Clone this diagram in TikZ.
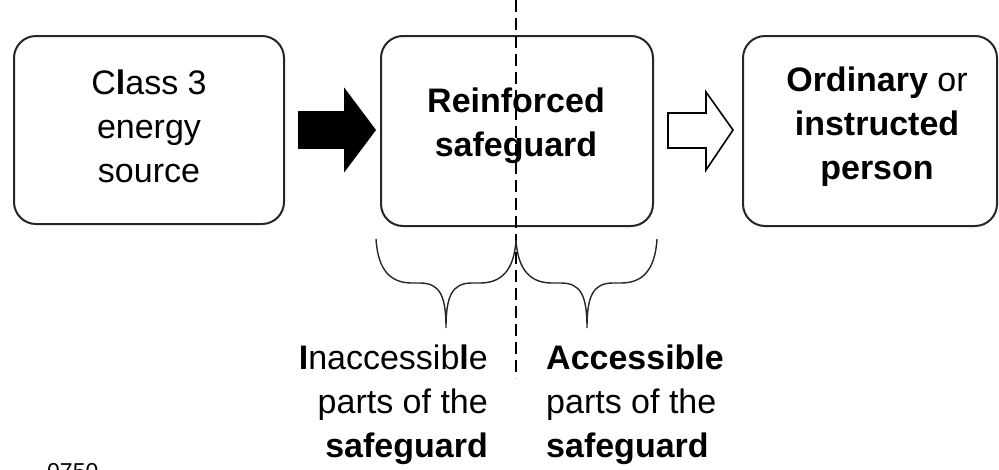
\documentclass[tikz,border=0pt]{standalone}
\usepackage{fontspec}
\setmainfont{Liberation Sans}
\begin{document}
\begin{tikzpicture}[x=1pt,y=-1pt,
  box/.style={draw=black!85,line width=2pt,rounded corners=22pt,inner sep=0pt},
  lbl/.style={inner sep=0pt,align=center,font=\fontsize{34}{44}\selectfont},
  side/.style={inner sep=0pt,font=\fontsize{34}{44}\selectfont},
  brace/.style={draw=black!85,line width=1.4pt},
  blockarrow/.style={draw=black,line width=1.6pt,line join=miter}]
\useasboundingbox (0,0) rectangle (999,469);
\clip (0,0) rectangle (999,469);
% boxes
\node[box,minimum width=270pt,minimum height=188pt] (b1) at (149,130) {};
\node[box,minimum width=272pt,minimum height=190pt] (b2) at (517,131) {};
\node[box,minimum width=254pt,minimum height=190pt] (b3) at (870,131) {};
% box texts
\node[lbl,yshift=3.5pt] (t1) at (b1.center) {C\textbf{l}ass 3\\energy\\source};
\node[lbl,yshift=5pt,xshift=-1pt] (t2) at (b2.center) {\textbf{Reinforced}\\\textbf{safeguard}};
\node[lbl,yshift=4pt,xshift=7pt] (t3) at (b3.center) {\textbf{Ordinary} or\\\textbf{instructed}\\\textbf{person}};
% dashed divider
\coordinate (dtop) at (516,0);
\coordinate (dbot) at (516,378);
\draw[line width=1.5pt,dash pattern=on 12pt off 6pt] (dtop) -- (dbot);
% black block arrow
\fill[black,blockarrow] (299,112) -- (345,112) -- (345,90) -- (375,130) -- (345,170) -- (345,148) -- (299,148) -- cycle;
% white block arrow
\draw[fill=white,blockarrow] (668,113) -- (706,113) -- (706,92) -- (733,130) -- (706,170) -- (706,148) -- (668,148) -- cycle;
% braces
\draw[brace] (376,239) .. controls (378,272) and (392,283) .. (412,283) -- (420,283)
  .. controls (440,283) and (446,296) .. (446,328)
  .. controls (446,296) and (452,283) .. (472,283) -- (480,283)
  .. controls (500,283) and (514,272) .. (516,240);
\draw[brace] (516,240) .. controls (518,272) and (532,283) .. (552,283) -- (561,283)
  .. controls (581,283) and (587,296) .. (587,328)
  .. controls (587,296) and (593,283) .. (613,283) -- (621,283)
  .. controls (641,283) and (655,272) .. (657,239);
% bottom labels
\node[side,anchor=north east,align=right] (il) at (488,345) {\textbf{I}naccessib\textbf{l}e\\parts of the\\\textbf{safeguard}};
\node[side,anchor=north west,align=left] (al) at (546,345) {\textbf{Accessible}\\parts of the\\\textbf{safeguard}};
% clipped figure number
\node[inner sep=0pt,anchor=north west,font=\fontsize{23}{28}\selectfont] (fig) at (47,463) {0750};
\end{tikzpicture}
\end{document}
